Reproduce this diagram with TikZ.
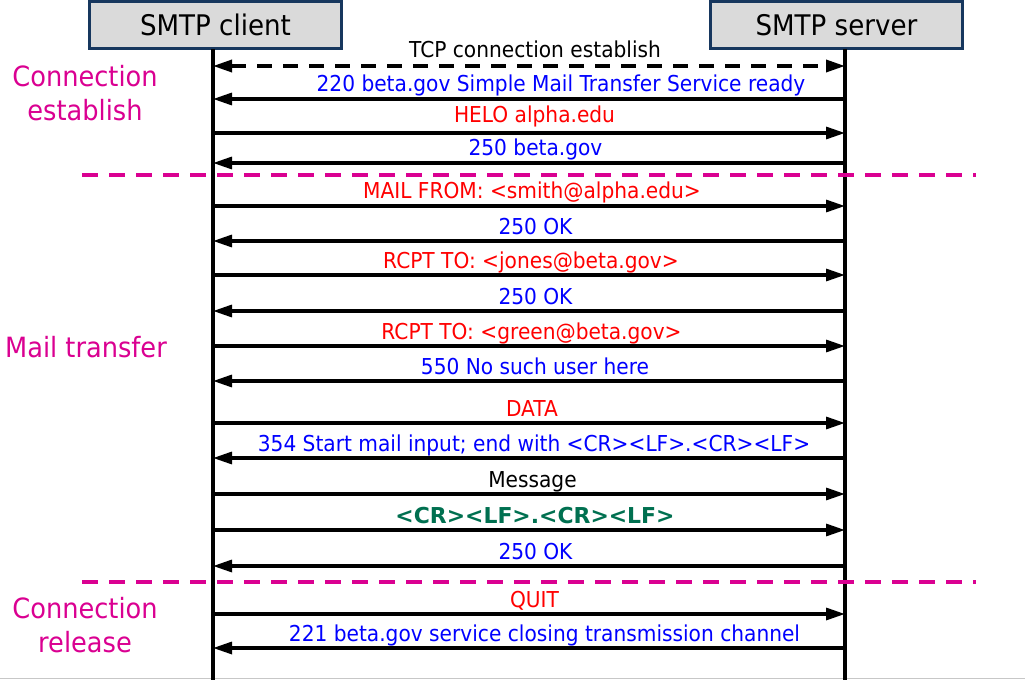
\documentclass[tikz,border=0pt]{standalone}
\usepackage{fontspec}
\setmainfont{DejaVu Sans}[FakeStretch=0.92]
\newfontfamily\crlffont{DejaVu Sans}[FakeStretch=1.0]
\usetikzlibrary{arrows.meta}
\definecolor{boxline}{RGB}{23,55,94}
\definecolor{boxfill}{RGB}{218,218,218}
\definecolor{phase}{RGB}{218,0,145}
\definecolor{srvblue}{RGB}{0,0,255}
\definecolor{clired}{RGB}{255,0,0}
\definecolor{endgreen}{RGB}{0,112,80}
\tikzset{
  party/.style={draw=boxline, fill=boxfill, line width=3bp, minimum width=252bp, minimum height=47bp, inner sep=0pt, font=\fontsize{28.5}{32}\selectfont},
  lifeline/.style={line width=3.4bp},
  msgline/.style={line width=3.2bp, -{Triangle[length=19bp,width=12bp]}},
  tcpline/.style={line width=3.4bp, dash pattern=on 15bp off 11bp, {Triangle[length=19bp,width=12bp]}-{Triangle[length=19bp,width=12bp]}},
  msgtext/.style={anchor=base, inner sep=0pt, font=\fontsize{22}{26}\selectfont},
  phaselabel/.style={anchor=north, inner sep=0pt, align=center, text=phase, font=\fontsize{28}{34.5}\selectfont},
  phasesep/.style={draw=phase, line width=4bp, dash pattern=on 16bp off 11bp}
}
% client -> server
\newcommand\smtpreq[5]{%
  \coordinate (c#1) at (213,#2);
  \coordinate (s#1) at (845,#2);
  \node[msgtext,#4] (t#1) at (#3,#2-7) {#5};
  \draw[msgline] (c#1) -- (s#1);
}
% server -> client
\newcommand\smtprep[5]{%
  \coordinate (c#1) at (213,#2);
  \coordinate (s#1) at (845,#2);
  \node[msgtext,#4] (t#1) at (#3,#2-7) {#5};
  \draw[msgline] (s#1) -- (c#1);
}
\begin{document}
\begin{tikzpicture}[x=1bp,y=-1bp]
\useasboundingbox (0,0) rectangle (1025,680);
% faint page edge
\coordinate (edgeL) at (0,678.8);
\coordinate (edgeR) at (1025,678.8);
\draw[line width=1.2bp, black!22] (edgeL) -- (edgeR);

% parties
\node[party] (client) at (215.5,25) {SMTP client};
\node[party] (server) at (836.5,25) {SMTP server};
\coordinate (clientTop) at (213,49);
\coordinate (clientEnd) at (213,680);
\coordinate (serverTop) at (845,49);
\coordinate (serverEnd) at (845,680);
\draw[lifeline] (clientTop) -- (clientEnd);
\draw[lifeline] (serverTop) -- (serverEnd);

% phase separators
\coordinate (sepAl) at (82,175);
\coordinate (sepAr) at (976,175);
\coordinate (sepBl) at (82,582);
\coordinate (sepBr) at (976,582);
\draw[phasesep] (sepAl) -- (sepAr);
\draw[phasesep] (sepBl) -- (sepBr);

% phase labels
\node[phaselabel] (ph1) at (85,65.2) {Connection\\establish};
\node[phaselabel] (ph2) at (86,336.5) {Mail transfer};
\node[phaselabel] (ph3) at (85,597.2) {Connection\\release};

% TCP connection
\coordinate (c0) at (213,66);
\coordinate (s0) at (845,66);
\node[msgtext] (t0) at (535,58) {TCP connection establish};
\draw[tcpline] (c0) -- (s0);

% messages
\smtprep{1}{99}{561}{text=srvblue}{220 beta.gov Simple Mail Transfer Service ready}
\smtpreq{2}{133}{534.5}{text=clired,yshift=3bp}{HELO alpha.edu}
\smtprep{3}{163}{535.5}{text=srvblue}{250 beta.gov}
\smtpreq{4}{206}{532}{text=clired}{MAIL FROM: <smith@alpha.edu>}
\smtprep{5}{241}{535.5}{text=srvblue}{250 OK}
\smtpreq{6}{275}{531}{text=clired}{RCPT TO: <jones@beta.gov>}
\smtprep{7}{311}{535.5}{text=srvblue}{250 OK}
\smtpreq{8}{346}{531.5}{text=clired}{RCPT TO: <green@beta.gov>}
\smtprep{9}{381}{535}{text=srvblue}{550 No such user here}
\smtpreq{10}{423}{532}{text=clired}{DATA}
\smtprep{11}{458}{534}{text=srvblue}{354 Start mail input; end with <CR><LF>.<CR><LF>}
\smtpreq{12}{494}{532.5}{text=black}{Message}
\smtpreq{13}{530}{535}{text=endgreen,font=\fontsize{22}{26}\selectfont\crlffont\bfseries}{<CR><LF>.<CR><LF>}
\smtprep{14}{566}{535.5}{text=srvblue}{250 OK}
\smtpreq{15}{614}{534.5}{text=clired}{QUIT}
\smtprep{16}{648}{544.5}{text=srvblue}{221 beta.gov service closing transmission channel}
\end{tikzpicture}
\end{document}
